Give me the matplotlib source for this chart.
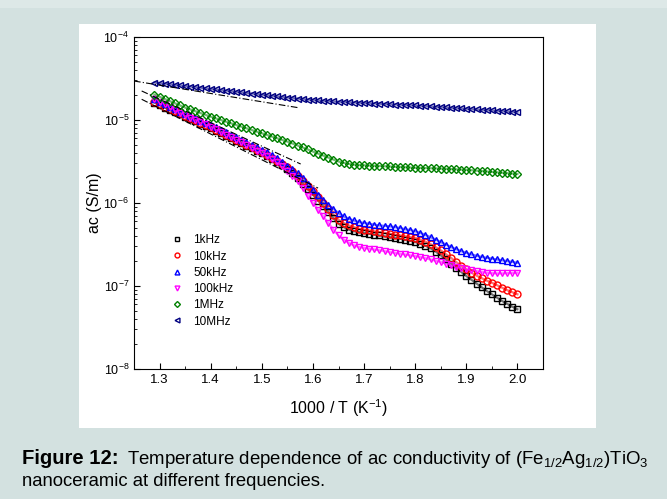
import numpy as np
import matplotlib.pyplot as plt
from matplotlib.patches import Rectangle

plt.rcParams['font.family'] = ['Liberation Sans', 'DejaVu Sans']
plt.rcParams['mathtext.fontset'] = 'custom'
plt.rcParams['mathtext.rm'] = 'Liberation Sans'
plt.rcParams['mathtext.it'] = 'Liberation Sans:italic'

# 1000/T grid, 1.29 ... 2.00
inv_t = np.round(np.arange(1.29, 2.0001, 0.01), 2)

# log10(sigma_ac)
log_1k = [-4.79, -4.82, -4.85, -4.88, -4.905, -4.93, -4.96, -4.99, -5.015, -5.045,
          -5.07, -5.10, -5.13, -5.16, -5.19, -5.22, -5.25, -5.28, -5.31, -5.34,
          -5.37, -5.40, -5.43, -5.465, -5.50, -5.545, -5.59, -5.64, -5.70, -5.765,
          -5.83, -5.90, -5.97, -6.04, -6.11, -6.18, -6.25, -6.29, -6.32, -6.34,
          -6.35, -6.36, -6.37, -6.38, -6.39, -6.40, -6.41, -6.42, -6.43, -6.445,
          -6.455, -6.47, -6.49, -6.515, -6.545, -6.585, -6.63, -6.68, -6.73, -6.78,
          -6.83, -6.88, -6.925, -6.97, -7.015, -7.06, -7.10, -7.14, -7.18, -7.215,
          -7.25, -7.28]
log_10k = [-4.78, -4.81, -4.84, -4.87, -4.895, -4.92, -4.95, -4.98, -5.005, -5.035,
           -5.06, -5.09, -5.12, -5.15, -5.18, -5.21, -5.24, -5.27, -5.30, -5.33,
           -5.36, -5.39, -5.42, -5.455, -5.49, -5.53, -5.57, -5.62, -5.675, -5.735,
           -5.80, -5.86, -5.93, -6.00, -6.07, -6.14, -6.20, -6.24, -6.27, -6.29,
           -6.31, -6.32, -6.33, -6.34, -6.35, -6.36, -6.37, -6.38, -6.39, -6.40,
           -6.41, -6.42, -6.44, -6.465, -6.495, -6.53, -6.57, -6.615, -6.66, -6.71,
           -6.755, -6.80, -6.84, -6.875, -6.905, -6.935, -6.96, -6.99, -7.02, -7.05,
           -7.075, -7.10]
log_50k = [-4.75, -4.78, -4.81, -4.84, -4.87, -4.90, -4.93, -4.955, -4.98, -5.01,
           -5.035, -5.06, -5.09, -5.12, -5.15, -5.18, -5.21, -5.24, -5.27, -5.30,
           -5.33, -5.36, -5.39, -5.425, -5.46, -5.505, -5.55, -5.59, -5.64, -5.70,
           -5.77, -5.84, -5.90, -5.96, -6.02, -6.07, -6.12, -6.16, -6.19, -6.21,
           -6.23, -6.24, -6.25, -6.26, -6.27, -6.275, -6.28, -6.29, -6.30, -6.315,
           -6.325, -6.34, -6.36, -6.385, -6.41, -6.44, -6.47, -6.50, -6.53, -6.555,
           -6.58, -6.60, -6.62, -6.635, -6.65, -6.66, -6.67, -6.68, -6.69, -6.70,
           -6.71, -6.72]
log_100k = [-4.75, -4.78, -4.81, -4.845, -4.88, -4.91, -4.94, -4.97, -4.995, -5.025,
            -5.05, -5.08, -5.11, -5.145, -5.175, -5.21, -5.24, -5.27, -5.305, -5.335,
            -5.37, -5.40, -5.435, -5.47, -5.51, -5.555, -5.61, -5.67, -5.74, -5.82,
            -5.91, -6.00, -6.08, -6.16, -6.24, -6.32, -6.39, -6.44, -6.48, -6.51,
            -6.53, -6.54, -6.55, -6.56, -6.57, -6.58, -6.59, -6.60, -6.61, -6.62,
            -6.63, -6.64, -6.65, -6.665, -6.68, -6.695, -6.71, -6.73, -6.75, -6.77,
            -6.785, -6.80, -6.81, -6.82, -6.83, -6.84, -6.845, -6.848, -6.848, -6.845,
            -6.842, -6.84]
log_1M = [-4.695, -4.72, -4.746, -4.772, -4.798, -4.824, -4.85, -4.872, -4.894, -4.916,
          -4.938, -4.96, -4.98, -5.00, -5.02, -5.04, -5.06, -5.08, -5.10, -5.12,
          -5.14, -5.16, -5.18, -5.20, -5.22, -5.24, -5.26, -5.283, -5.307, -5.331,
          -5.355, -5.38, -5.404, -5.428, -5.452, -5.476, -5.50, -5.515, -5.528, -5.537,
          -5.542, -5.545, -5.548, -5.551, -5.554, -5.557, -5.56, -5.563, -5.566, -5.569,
          -5.572, -5.575, -5.577, -5.579, -5.581, -5.583, -5.585, -5.588, -5.591, -5.594,
          -5.597, -5.60, -5.605, -5.61, -5.615, -5.62, -5.625, -5.63, -5.635, -5.64,
          -5.645, -5.65]
log_10M = [-4.548, -4.555, -4.562, -4.569, -4.576, -4.583, -4.59, -4.597, -4.604, -4.611,
           -4.618, -4.625, -4.632, -4.639, -4.646, -4.653, -4.66, -4.667, -4.674, -4.681,
           -4.688, -4.695, -4.702, -4.709, -4.716, -4.723, -4.73, -4.736, -4.742, -4.748,
           -4.754, -4.76, -4.764, -4.768, -4.772, -4.776, -4.78, -4.783, -4.786, -4.789,
           -4.792, -4.795, -4.798, -4.801, -4.804, -4.807, -4.81, -4.813, -4.816, -4.819,
           -4.822, -4.825, -4.829, -4.833, -4.837, -4.841, -4.845, -4.849, -4.853, -4.857,
           -4.861, -4.865, -4.869, -4.873, -4.877, -4.881, -4.885, -4.889, -4.893, -4.897,
           -4.901, -4.905]

labels = ['1kHz', '10kHz', '50kHz', '100kHz', '1MHz', '10MHz']
series = [log_1k, log_10k, log_50k, log_100k, log_1M, log_10M]
markers = ['s', 'o', '^', 'v', 'D', '<']
colors = ['black', 'red', 'blue', 'magenta', 'green', 'navy']

# dash-dot linear fits: (x0, x1), (log y0, log y1)
fit_x = [(1.25, 1.57), (1.265, 1.576), (1.265, 1.61)]
fit_logy = [(-4.53, -4.85), (-4.65, -5.53), (-4.75, -5.82)]

fig = plt.figure(figsize=(6.67, 4.99), dpi=100)
fig.patch.set_facecolor('#d3e1e0')
fig.patches.append(Rectangle((0, 0.984), 1, 0.016, transform=fig.transFigure,
                             facecolor='#dde8e7', edgecolor='none', zorder=-10))
fig.patches.append(Rectangle((0.1184, 0.1423), 0.7751, 0.8096, transform=fig.transFigure,
                             facecolor='white', edgecolor='none', zorder=-10))

ax = fig.add_axes([0.2009, 0.2605, 0.6132, 0.6653])
ax.set_facecolor('white')

for lab, vals, mk, c in zip(labels, series, markers, colors):
    ms = 4.3 if mk == 'D' else 5
    y = 10 ** np.array(vals)
    # thin trace under the open symbols so the dense run reads as a band
    ax.plot(inv_t, y, color=c, lw=1.6, alpha=0.55, zorder=2)
    ax.plot(inv_t, y, linestyle='none', marker=mk, ms=ms,
            mfc='none', mec=c, mew=1.0, label=lab, zorder=3)

for (x0, x1), (y0, y1) in zip(fit_x, fit_logy):
    ax.plot([x0, x1], [10 ** y0, 10 ** y1], color='black', lw=0.8,
            linestyle=(0, (6, 2, 1, 2)), zorder=5)

ax.set_yscale('log')
ax.set_ylim(1e-8, 1e-4)
ax.set_xlim(1.25, 2.05)
ax.set_xticks(np.arange(1.3, 2.01, 0.1))
ax.set_xticks(np.arange(1.35, 2.05, 0.1), minor=True)
ax.set_xticklabels([f'{v:.1f}' for v in np.arange(1.3, 2.01, 0.1)])
ax.tick_params(which='both', direction='in', top=False, right=False, labelsize=9.5)
ax.tick_params(which='major', length=4)
ax.tick_params(which='minor', length=2.5)
ax.tick_params(axis='y', labelsize=9)
ax.set_xlabel('1000 / T (K$^{-1}$)', fontsize=11.5, labelpad=8)
ax.set_ylabel('ac (S/m)', fontsize=11.5, labelpad=1)

leg = ax.legend(loc='upper left', bbox_to_anchor=(0.078, 0.42), frameon=False,
                fontsize=8.5, markerscale=0.7, handlelength=1.0, handletextpad=0.9,
                labelspacing=0.36, borderaxespad=0)
for h in leg.legend_handles:
    h.set_linestyle('none')

fig.text(0.033, 0.070, 'Figure 12:', fontsize=14.6, fontweight='bold')
fig.text(0.1904, 0.070,
         'Temperature dependence of ac conductivity of (Fe$_{1/2}$Ag$_{1/2}$)TiO$_3$',
         fontsize=13.4)
fig.text(0.033, 0.026, 'nanoceramic at different frequencies.', fontsize=13.3)

fig.savefig('out.png', dpi=100, facecolor=fig.get_facecolor())
